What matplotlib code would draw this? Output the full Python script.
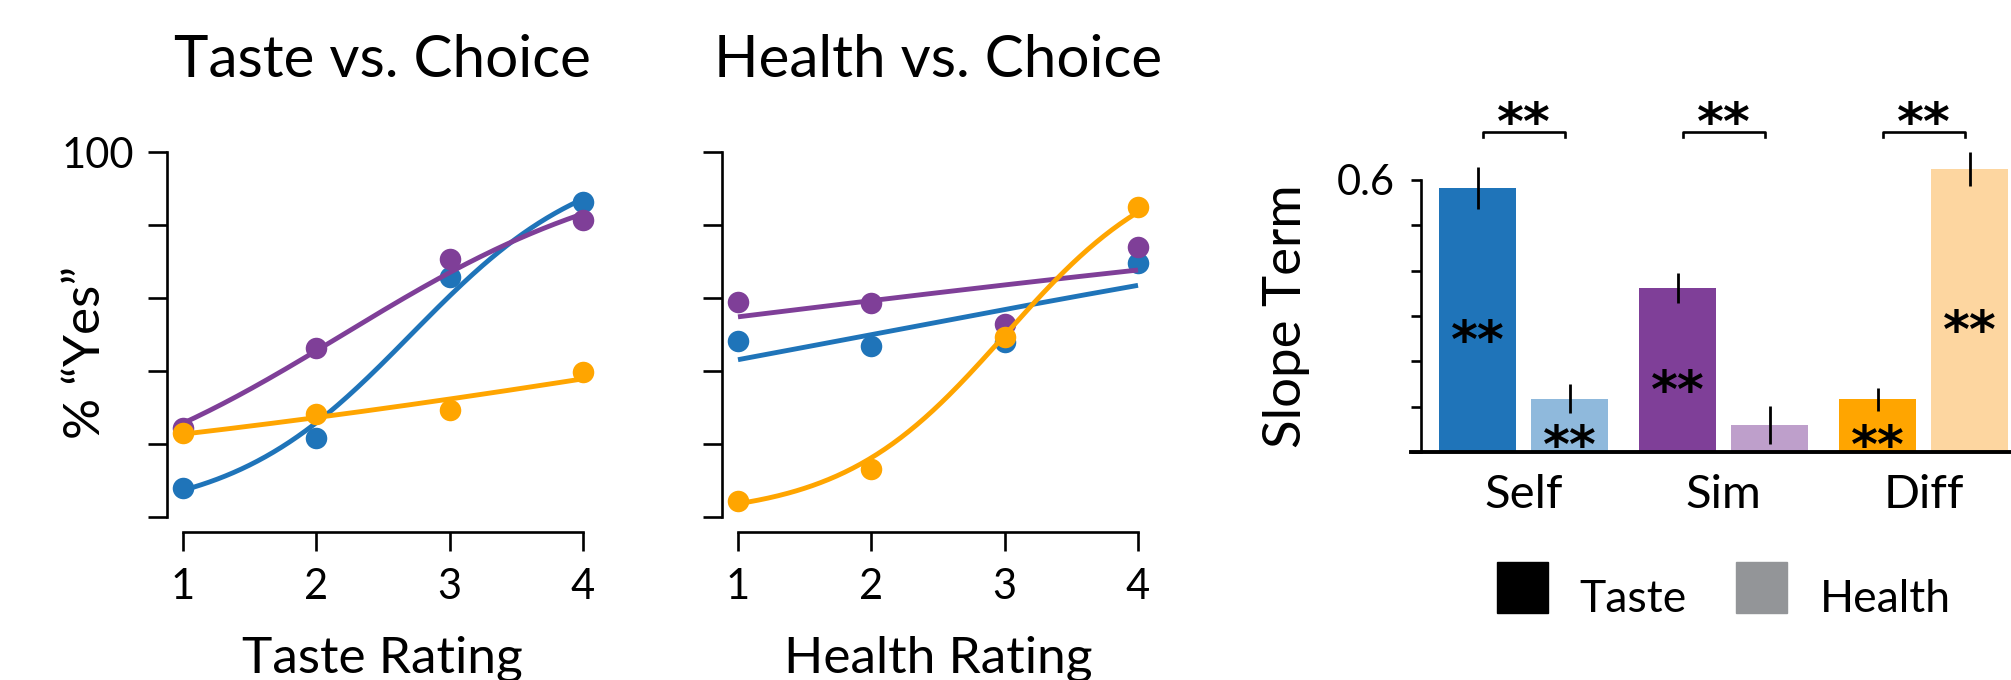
import matplotlib.pyplot as plt
import numpy as np
from matplotlib.patches import Rectangle

plt.rcParams['font.family'] = ['Lato', 'DejaVu Sans']

W, H = 2011, 680

ratings = [1, 2, 3, 4]

# % "Yes" per rating level
taste_self = [7.9, 21.6, 65.8, 86.3]
taste_sim = [24.3, 46.2, 70.6, 81.3]
taste_diff = [23.0, 28.2, 29.2, 39.8]
health_self = [48.1, 46.9, 47.9, 69.7]
health_sim = [59.0, 58.5, 52.8, 74.0]
health_diff = [4.3, 13.1, 49.4, 84.8]

# slope terms (mean, s.e.)
groups = ["Self", "Sim", "Diff"]
slope_taste = [0.582, 0.361, 0.116]
slope_taste_se = [0.046, 0.033, 0.025]
slope_health = [0.118, 0.059, 0.624]
slope_health_se = [0.033, 0.042, 0.038]
sig_taste = ["**", "**", "**"]
sig_health = ["**", "", "**"]
sig_pair = ["**", "**", "**"]

BLUE = "#1f74b9"
PURPLE = "#7f3f98"
ORANGE = "#ffa500"
LIGHT = ["#8fb9dc", "#be9fcb", "#fdd6a0"]
GREY = "#939598"

STAR_FONT = dict(family="DejaVu Sans", fontsize=37, fontweight="bold", ha="center", va="baseline")
STAR_DROP = 0.066  # baseline sits below the visual centre of an asterisk


def fx(px):
    return px / W


def fy(py):
    return 1.0 - py / H


def logistic_fit(x, pct):
    x = np.asarray(x, float)
    p = np.asarray(pct, float) / 100.0
    coef = np.polyfit(x, np.log(p / (1.0 - p)), 1)
    xs = np.linspace(x.min(), x.max(), 200)
    return xs, 100.0 / (1.0 + np.exp(-np.polyval(coef, xs)))


def rating_panel(ax, series, ylabels):
    for vals, color in series:
        xs, fit = logistic_fit(ratings, vals)
        ax.plot(xs, fit, color=color, lw=3.5, solid_capstyle="butt", clip_on=False)
        ax.plot(ratings, vals, "o", color=color, ms=15.5, mew=0, clip_on=False)
    ax.set_xlim(0.88, 4.12)
    ax.set_ylim(0, 100)
    for s in ("top", "right"):
        ax.spines[s].set_visible(False)
    ax.spines["left"].set_bounds(0, 100)
    ax.spines["bottom"].set_bounds(1, 4)
    ax.spines["bottom"].set_position(("outward", 10.8))
    for s in ("left", "bottom"):
        ax.spines[s].set_linewidth(1.9)
    ax.set_xticks(ratings)
    ax.set_yticks([0, 20, 40, 60, 80, 100])
    ax.set_yticklabels(["", "", "", "", "", "100"] if ylabels else [])
    ax.tick_params(length=13.7, width=1.9, labelsize=30)
    ax.tick_params(axis="x", pad=12)
    ax.tick_params(axis="y", pad=10)


fig = plt.figure(figsize=(W / 100, H / 100), dpi=100)

ax1 = fig.add_axes([fx(167), fy(517), fx(432), 365 / H])
rating_panel(ax1, [(taste_self, BLUE), (taste_sim, PURPLE), (taste_diff, ORANGE)], True)

ax2 = fig.add_axes([fx(722), fy(517), fx(432), 365 / H])
rating_panel(ax2, [(health_self, BLUE), (health_sim, PURPLE), (health_diff, ORANGE)], False)

fig.text(fx(382), fy(77), "Taste vs. Choice", ha="center", va="baseline", fontsize=42)
fig.text(fx(938), fy(77), "Health vs. Choice", ha="center", va="baseline", fontsize=42)
fig.text(fx(382), fy(673), "Taste Rating", ha="center", va="baseline", fontsize=37)
fig.text(fx(938), fy(673), "Health Rating", ha="center", va="baseline", fontsize=37)
fig.text(fx(86), fy(352), "% \u201cYes\u201d", ha="center", va="center", rotation=90, fontsize=37)

# slope bar chart
bx = fig.add_axes([fx(1421), fy(452), fx(590), 272 / H])
x = np.arange(len(groups))
off, bw = 0.23, 0.385
bars_t = bx.bar(x - off, slope_taste, bw, color=[BLUE, PURPLE, ORANGE])
bars_h = bx.bar(x + off, slope_health, bw, color=LIGHT)
for b in list(bars_t) + list(bars_h):
    b.set_clip_on(False)
lo = np.array(slope_taste) - np.array(slope_taste_se)
hi = np.array(slope_taste) + np.array(slope_taste_se)
bx.vlines(x - off, lo, hi, color="k", lw=2.0, clip_on=False)
lo = np.array(slope_health) - np.array(slope_health_se)
hi = np.array(slope_health) + np.array(slope_health_se)
bx.vlines(x + off, lo, hi, color="k", lw=2.0, clip_on=False)

for i in range(len(groups)):
    bx.text(x[i] - off, slope_taste[i] / 2 - 0.015 - STAR_DROP, sig_taste[i], **STAR_FONT)
    bx.text(x[i] + off, slope_health[i] / 2 - 0.015 - STAR_DROP, sig_health[i], **STAR_FONT)
    bx.plot([i - 0.205, i - 0.205, i + 0.2075, i + 0.2075], [0.695, 0.706, 0.706, 0.695],
            color="k", lw=1.9, clip_on=False)
    bx.text(x[i], 0.757 - STAR_DROP, sig_pair[i], **STAR_FONT)

bx.set_xlim(-0.5125, 2.4375)
bx.set_ylim(0, 0.6)
for s in ("top", "right", "bottom"):
    bx.spines[s].set_visible(False)
bx.spines["left"].set_linewidth(1.9)
bx.axhline(0, xmin=-0.017, xmax=1, color="k", lw=2.8, clip_on=False)
bx.set_yticks(np.arange(0, 0.61, 0.1))
bx.set_yticklabels(["", "", "", "", "", "", "0.6"])
bx.tick_params(axis="y", length=7.2, width=1.9, labelsize=30, pad=12)
bx.set_xticks(x)
bx.set_xticklabels(groups)
bx.tick_params(axis="x", length=0, labelsize=34, pad=16)
fig.text(fx(1287), fy(316), "Slope Term", ha="center", va="center", rotation=90, fontsize=38)

# legend
fig.add_artist(Rectangle((fx(1497), fy(613)), fx(51), 51 / H, transform=fig.transFigure, color="k"))
fig.add_artist(Rectangle((fx(1736), fy(613)), fx(51), 51 / H, transform=fig.transFigure, color=GREY))
fig.text(fx(1579), fy(612), "Taste", ha="left", va="baseline", fontsize=32)
fig.text(fx(1820), fy(612), "Health", ha="left", va="baseline", fontsize=32)

fig.savefig("out.png", dpi=100)
